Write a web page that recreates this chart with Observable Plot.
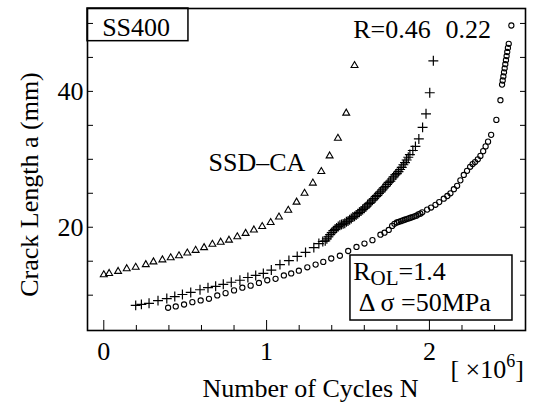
<!DOCTYPE html>
<html>
<head>
<meta charset="utf-8">
<script src="https://cdn.jsdelivr.net/npm/d3@7"></script>
<script src="https://cdn.jsdelivr.net/npm/@observablehq/plot@0.6"></script>
<style>
  html, body { margin: 0; padding: 0; background: #fff; }
  #chart svg { display: block; }
  #chart svg text { font-family: "Liberation Serif", "Times New Roman", serif !important; }
</style>
</head>
<body>
<div id="chart"></div>
<script>
// ---------- data ----------
// SSD-CA (triangles): [N (x10^6 cycles), a (mm)]
const ssdCA = [
  [0.000,13.0],[0.033,13.2],[0.088,13.5],[0.141,13.9],[0.196,14.1],[0.258,14.5],
  [0.305,14.9],[0.360,15.2],[0.411,15.5],[0.462,15.8],[0.513,16.2],[0.564,16.6],
  [0.616,17.0],[0.667,17.5],[0.718,17.8],[0.769,18.1],[0.820,18.6],[0.871,19.1],
  [0.922,19.6],[0.973,20.1],[1.025,20.7],[1.076,21.5],[1.133,22.5],[1.184,23.7],
  [1.233,25.0],[1.284,26.5],[1.336,28.2],[1.387,30.5],[1.438,33.1],[1.489,36.8],
  [1.540,43.8]
];
// R = 0.46 (plus)
const r046 = [
  [0.196,8.5],[0.231,8.65],[0.278,8.8],[0.333,9.2],[0.387,9.5],[0.436,9.8],
  [0.483,10.1],[0.534,10.4],[0.591,10.8],[0.640,11.1],[0.687,11.3],[0.734,11.6],
  [0.783,11.9],[0.836,12.2],[0.885,12.6],[0.933,12.9],[0.980,13.2],[1.029,13.7],
  [1.082,14.5],[1.137,15.1],[1.188,15.7],[1.239,16.3],[1.290,17.0],[1.321,17.6],
  [1.345,17.9],
  [1.36,18.0],[1.37,18.3],[1.38,18.6],[1.39,18.9],[1.40,19.2],[1.41,19.5],
  [1.42,19.7],[1.43,19.9],[1.44,20.1],[1.45,20.3],[1.46,20.4],[1.47,20.5],
  [1.48,20.6],[1.49,20.8],[1.50,20.9],[1.51,21.1],[1.52,21.3],[1.53,21.5],
  [1.54,21.6],[1.55,21.8],[1.56,22.0],[1.57,22.2],[1.58,22.4],[1.59,22.6],
  [1.60,22.8],[1.61,23.0],[1.62,23.3],[1.63,23.5],[1.64,23.7],[1.65,24.0],
  [1.66,24.2],[1.67,24.5],[1.68,24.7],[1.69,25.0],[1.70,25.2],[1.71,25.5],
  [1.72,25.8],[1.73,26.0],[1.74,26.3],[1.75,26.6],[1.76,26.8],[1.77,27.1],
  [1.78,27.4],[1.79,27.7],[1.80,27.9],[1.81,28.2],[1.82,28.5],[1.83,28.8],
  [1.84,29.2],[1.85,29.5],[1.86,29.9],[1.87,30.3],[1.88,30.7],
  [1.898,31.3],[1.914,31.9],[1.935,33.0],[1.958,34.7],[1.979,36.7],[2.002,39.8],
  [2.024,44.5]
];
// R = 0.22 (open circles)
const r022 = [
  [0.395,8.15],[0.442,8.34],[0.493,8.63],[0.544,8.97],[0.595,9.22],[0.646,9.47],
  [0.697,9.96],[0.748,10.3],[0.800,10.7],[0.851,11.1],[0.902,11.4],[0.953,11.8],
  [1.004,12.2],[1.055,12.4],[1.106,12.9],[1.151,13.2],[1.198,13.6],[1.250,14.1],
  [1.301,14.5],[1.348,14.9],[1.397,15.4],[1.450,15.8],[1.501,16.5],[1.552,17.1],
  [1.601,17.6],[1.650,18.1],[1.699,18.9],[1.724,19.2],[1.750,19.6],[1.771,20.2],
  [1.785,20.5],[1.800,20.7],[1.812,20.8],[1.824,20.9],[1.836,21.0],[1.848,21.1],
  [1.860,21.2],[1.872,21.3],[1.884,21.4],[1.896,21.5],[1.908,21.6],[1.920,21.7],
  [1.932,21.9],[1.944,22.0],[1.956,22.2],[1.986,22.6],[2.010,22.9],[2.037,23.3],
  [2.060,23.7],[2.088,24.2],[2.110,24.6],[2.129,25.0],[2.150,25.6],[2.170,26.1],
  [2.190,26.9],[2.211,27.7],[2.231,28.3],[2.250,28.9],[2.265,29.3],[2.280,29.6],
  [2.297,30.0],[2.313,30.5],[2.330,31.2],[2.345,31.9],[2.360,32.6],[2.379,33.6],
  [2.411,35.8],[2.436,38.7],[2.446,41.0],[2.450,41.6],[2.454,42.2],[2.458,42.8],
  [2.462,43.4],[2.466,44.0],[2.470,44.6],[2.474,45.2],[2.478,45.8],[2.482,46.4],
  [2.487,47.0],[2.503,49.7]
];
// ticks
const xMajor = [0, 1, 2];
const xMinor = [0.2, 0.4, 0.6, 0.8, 1.2, 1.4, 1.6, 1.8, 2.2, 2.4];
const yMajor = [20, 40];
const yMinor = [10, 15, 25, 30, 35, 45, 50];
// texts
const textMaterial = "SS400";
const textR046 = "R=0.46";
const textR022 = "0.22";
const textSSD = "SSD\u2013CA";
const textROL = "ROL=1.4";
const textStress = "\u0394 \u03c3 =50MPa";
const textUnit = "[ \u00d710";
const xTitle = "Number of Cycles N";
const yTitle = "Crack Length a (mm)";

// ---------- layout / annotation placement ----------
const FONT = "Liberation Serif";
const FS = 26;
const xDomain = [-0.1, 2.59];
const yDomain = [4.8, 52.2];

const txt = (t, x, y, extra = {}) =>
  Plot.text([t], {x: () => x, y: () => y, text: d => d, textAnchor: "start",
    lineAnchor: "bottom", fontSize: FS, fill: "black", ...extra});

const chart = Plot.plot({
  width: 534,
  height: 410,
  marginLeft: 87,
  marginRight: 9,
  marginTop: 8,
  marginBottom: 80,
  x: {domain: xDomain, label: null},
  y: {domain: yDomain, label: null},
  style: {fontFamily: FONT, fontSize: FS + "px", background: "white", color: "black"},
  marks: [
    // boxes
    Plot.rect([0], {x1: () => -0.1, x2: () => 0.52, y1: () => 47.39, y2: () => 52.2,
      fill: "white", stroke: "black", strokeWidth: 1.5}),
    Plot.rect([0], {x1: () => 1.515, x2: () => 2.51, y1: () => 6.27, y2: () => 15.84,
      fill: "white", stroke: "black", strokeWidth: 1.5}),
    // data
    Plot.dot(ssdCA, {x: d => d[0], y: d => d[1], symbol: "triangle2", r: 3.3,
      fill: "none", stroke: "black", strokeWidth: 1.1}),
    Plot.dot(r046, {x: d => d[0], y: d => d[1], symbol: "plus", r: 3.3,
      fill: "none", stroke: "black", strokeWidth: 1.2}),
    Plot.dot(r022, {x: d => d[0], y: d => d[1], symbol: "circle", r: 2.6,
      fill: "none", stroke: "black", strokeWidth: 1.1}),
    // frame
    Plot.frame({stroke: "black", strokeWidth: 1.6}),
    // ticks (inward)
    Plot.axisX(xMajor, {anchor: "bottom", tickSize: -10, fill: "none", label: null}),
    Plot.axisX(xMinor, {anchor: "bottom", tickSize: -5, fill: "none", label: null}),
    Plot.axisX(xMajor, {anchor: "bottom", tickSize: 0, tickPadding: 11, fontSize: FS,
      tickFormat: d => String(d), label: null}),
    Plot.axisY(yMajor.concat(yMinor), {anchor: "left", tickSize: -6, fill: "none", label: null}),
    Plot.axisY(yMajor.concat(yMinor), {anchor: "right", tickSize: -6, fill: "none", label: null}),
    Plot.axisY(yMajor, {anchor: "left", tickSize: 0, tickPadding: 4, fontSize: FS,
      tickFormat: d => String(d), label: null}),
    // annotations
    txt(textMaterial, -0.01, 48.2),
    txt(textR046, 1.532, 47.9),
    txt(textR022, 2.098, 47.9),
    txt(textSSD, 0.643, 28.35),
    txt(textROL, 1.532, 12.3),
    txt(textStress, 1.566, 7.6),
    txt(textUnit, 2.129, -2.12),
    // axis titles
    Plot.text([xTitle], {frameAnchor: "bottom", dx: 4, dy: 66, text: d => d,
      lineAnchor: "bottom", textAnchor: "middle", fontSize: FS, fill: "black"}),
    Plot.text([yTitle], {frameAnchor: "left", dx: -58, dy: 15, text: d => d, rotate: -90,
      lineAnchor: "middle", textAnchor: "middle", fontSize: FS, fill: "black"})
  ]
});

// subscript / superscript via tspans
const NS = "http://www.w3.org/2000/svg";
chart.querySelectorAll("text").forEach(t => {
  if (t.textContent === textROL) {
    t.textContent = "";
    const a = document.createElementNS(NS, "tspan"); a.textContent = "R";
    const b = document.createElementNS(NS, "tspan"); b.textContent = "OL";
    b.setAttribute("dy", "5"); b.setAttribute("font-size", "21");
    const c = document.createElementNS(NS, "tspan"); c.textContent = "=1.4";
    c.setAttribute("dy", "-5"); c.setAttribute("font-size", String(FS));
    t.append(a, b, c);
  } else if (t.textContent === textUnit) {
    const s = document.createElementNS(NS, "tspan"); s.textContent = "6";
    s.setAttribute("dy", "-11"); s.setAttribute("font-size", "18");
    const e = document.createElementNS(NS, "tspan"); e.textContent = "]";
    e.setAttribute("dy", "11"); e.setAttribute("font-size", String(FS));
    t.append(s, e);
  }
});

document.getElementById("chart").appendChild(chart);
</script>
</body>
</html>
